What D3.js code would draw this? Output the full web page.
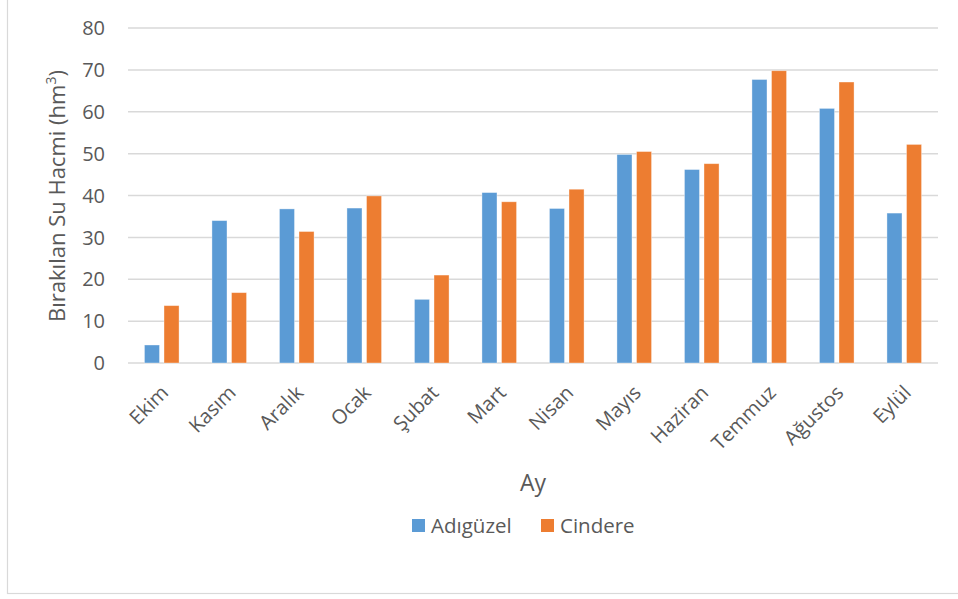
<!DOCTYPE html>
<html>
<head>
<meta charset="utf-8">
<script src="https://cdn.jsdelivr.net/npm/d3@7/dist/d3.min.js"></script>
<style>
  html, body { margin: 0; padding: 0; background: #fff; }
  svg { display: block; }
  text { font-family: "Open Sans", "Noto Sans", sans-serif; fill: #595959; }
</style>
</head>
<body>
<svg id="chart" width="958" height="599"></svg>
<script>
// Monthly released water volume for two reservoirs
const months = ["Ekim", "Kasım", "Aralık", "Ocak", "Şubat", "Mart", "Nisan", "Mayıs", "Haziran", "Temmuz", "Ağustos", "Eylül"];
const adiguzel = [4.3, 34.0, 36.8, 37.0, 15.2, 40.7, 36.9, 49.8, 46.2, 67.7, 60.8, 35.8];
const cindere  = [13.7, 16.8, 31.4, 39.9, 21.0, 38.5, 41.5, 50.5, 47.6, 69.8, 67.1, 52.2];
const seriesNames = ["Adıgüzel", "Cindere"];
const yTicks = [0, 10, 20, 30, 40, 50, 60, 70, 80];

const colors = { "Adıgüzel": "#5b9bd5", "Cindere": "#ed7d31" };
const seriesValues = { "Adıgüzel": adiguzel, "Cindere": cindere };

const svg = d3.select("#chart");

// outer chart frame
svg.append("rect")
  .attr("x", 7.5).attr("y", -1)
  .attr("width", 960).attr("height", 594.5)
  .attr("fill", "none").attr("stroke", "#d9d9d9").attr("stroke-width", 1.2);

const plot = { left: 128, right: 938, top: 28, bottom: 363 };

const x = d3.scaleBand().domain(months).range([plot.left, plot.right]).paddingInner(0).paddingOuter(0);
const y = d3.scaleLinear().domain([0, 80]).range([plot.bottom, plot.top]);

// horizontal gridlines
svg.append("g")
  .selectAll("line")
  .data(yTicks)
  .join("line")
  .attr("x1", plot.left).attr("x2", plot.right)
  .attr("y1", d => y(d)).attr("y2", d => y(d))
  .attr("stroke", "#d9d9d9").attr("stroke-width", 1.5);

// y axis tick labels
svg.append("g")
  .selectAll("text")
  .data(yTicks)
  .join("text")
  .attr("x", 105).attr("y", d => y(d))
  .attr("dy", "0.36em")
  .attr("text-anchor", "end")
  .attr("font-size", 20)
  .text(d => d);

// grouped bars
const barW = 15.3, barGap = 4;
const groupW = barW * 2 + barGap;
const inner = d3.scaleBand().domain(seriesNames).range([0, groupW]).paddingInner(barGap / groupW * 2).paddingOuter(0);

const groups = svg.append("g")
  .selectAll("g")
  .data(months)
  .join("g")
  .attr("transform", d => `translate(${x(d) + (x.bandwidth() - groupW) / 2},0)`);

groups.selectAll("rect")
  .data((m, i) => seriesNames.map(s => ({ s, v: seriesValues[s][i] })))
  .join("rect")
  .attr("x", d => inner(d.s))
  .attr("width", inner.bandwidth())
  .attr("y", d => y(d.v))
  .attr("height", d => y(0) - y(d.v))
  .attr("fill", d => colors[d.s])
  .attr("stroke", "#ffffff").attr("stroke-opacity", 0.45).attr("stroke-width", 0.8);

// x axis category labels, rotated
svg.append("g")
  .selectAll("text")
  .data(months)
  .join("text")
  .attr("transform", d => `translate(${x(d) + x.bandwidth() / 2 + 3},${389}) rotate(-45)`)
  .attr("text-anchor", "end")
  .attr("dy", "0.35em")
  .attr("font-size", 20)
  .text(d => d);

// axis titles
svg.append("text")
  .attr("x", 533).attr("y", 491)
  .attr("text-anchor", "middle")
  .attr("font-size", 23)
  .text("Ay");

const yTitle = svg.append("text")
  .attr("transform", "translate(57,196) rotate(-90)")
  .attr("text-anchor", "middle")
  .attr("dy", "0.35em")
  .attr("font-size", 22);
yTitle.append("tspan").text("Bırakılan Su Hacmi (hm");
yTitle.append("tspan").attr("baseline-shift", "super").attr("font-size", 14).text("3");
yTitle.append("tspan").text(")");

// legend
const legendItems = [{ name: "Adıgüzel", x: 412 }, { name: "Cindere", x: 541 }];
const legend = svg.append("g")
  .selectAll("g")
  .data(legendItems)
  .join("g")
  .attr("transform", d => `translate(${d.x},519)`);
legend.append("rect")
  .attr("width", 13).attr("height", 13)
  .attr("fill", d => colors[d.name]);
legend.append("text")
  .attr("x", 19).attr("y", 13.5)
  .attr("font-size", 20.5)
  .text(d => d.name);
</script>
</body>
</html>
